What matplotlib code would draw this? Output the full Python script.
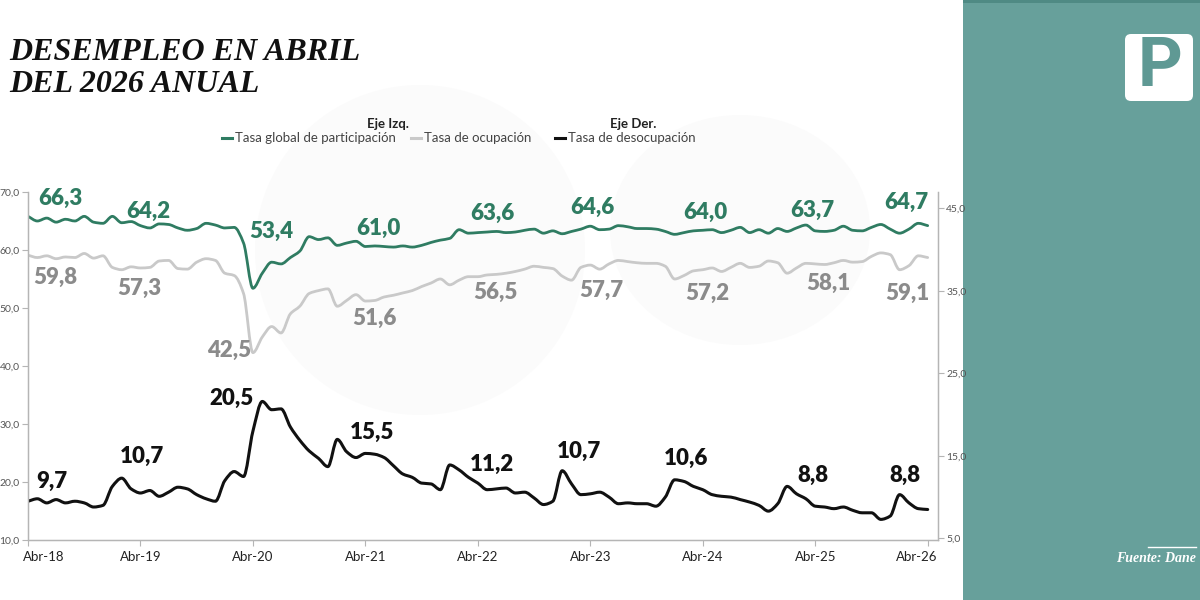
import numpy as np
import matplotlib
matplotlib.use("Agg")
import matplotlib.pyplot as plt
from matplotlib.patches import FancyBboxPatch, Rectangle, Ellipse, PathPatch
from matplotlib.path import Path
from matplotlib.lines import Line2D
from matplotlib.transforms import ScaledTranslation

# ---------------- data (monthly, Apr-2018 .. Apr-2026) ----------------
tick_labels = ["Abr-18", "Abr-19", "Abr-20", "Abr-21", "Abr-22",
               "Abr-23", "Abr-24", "Abr-25", "Abr-26"]

tgp = [  # Tasa global de participación (eje izq.)
    65.8, 65.0, 65.5, 64.8, 65.3, 65.0, 65.8, 64.8, 64.6,
    65.8, 64.7, 64.9, 64.2, 63.8, 64.5, 64.4, 63.8, 63.4, 63.7, 64.6, 64.3,
    63.8, 63.9, 61.2, 53.4, 56.0, 57.9, 57.6, 58.7, 59.8, 62.3, 61.8, 62.1,
    60.8, 61.2, 61.5, 60.6, 60.7, 60.6, 60.5, 60.7, 60.5, 60.8, 61.3, 61.7,
    62.0, 63.5, 62.9, 63.0, 63.1, 63.2, 63.0, 63.1, 63.4, 63.6, 62.9, 63.3,
    62.8, 63.2, 63.6, 64.1, 63.5, 63.6, 64.2, 64.0, 63.7, 63.7, 63.6, 63.2,
    62.7, 63.0, 63.3, 63.4, 63.5, 63.0, 63.4, 63.9, 63.0, 63.5, 62.9, 63.7,
    63.2, 63.8, 64.3, 63.3, 63.2, 63.4, 64.1, 63.4, 63.3, 63.9, 64.4, 63.6,
    62.9, 63.6, 64.6, 64.2]

to = [  # Tasa de ocupación (eje izq.)
    59.1, 58.7, 59.0, 58.5, 58.8, 58.7, 59.4, 58.6, 59.0,
    57.0, 56.6, 57.1, 56.9, 57.0, 58.1, 58.2, 56.8, 56.7, 57.9, 58.5, 58.2,
    56.0, 55.6, 52.5, 42.3, 45.0, 46.8, 45.7, 49.0, 50.3, 52.5, 53.0, 53.3,
    50.3, 51.3, 52.3, 51.2, 51.3, 51.9, 52.2, 52.6, 53.0, 53.7, 54.3, 55.0,
    54.0, 54.8, 55.4, 55.4, 55.7, 55.8, 56.0, 56.3, 56.7, 57.2, 57.0, 56.8,
    55.5, 54.8, 57.0, 57.4, 56.7, 57.6, 58.2, 58.0, 57.8, 57.7, 57.7, 57.2,
    55.0, 55.6, 56.4, 56.6, 56.9, 56.3, 57.0, 57.7, 57.0, 57.2, 58.1, 57.8,
    56.0, 56.9, 57.7, 57.6, 57.5, 57.8, 58.2, 57.9, 58.0, 58.9, 59.5, 59.2,
    56.6, 57.3, 59.0, 58.7]

td = [  # Tasa de desocupación (eje der.)
    9.5, 9.8, 9.3, 9.7, 9.3, 9.5, 9.3, 8.8, 9.0,
    11.3, 12.3, 11.0, 10.5, 10.8, 10.1, 10.6, 11.2, 11.0, 10.3, 9.8, 9.5,
    12.0, 13.1, 12.5, 18.0, 21.6, 20.6, 20.7, 18.5, 16.9, 15.6, 14.7, 13.7,
    17.0, 15.5, 14.8, 15.3, 15.2, 14.8, 13.8, 12.8, 12.4, 11.7, 11.6, 10.9,
    13.9, 13.3, 12.4, 11.7, 10.9, 11.0, 11.1, 10.5, 10.6, 9.9, 9.1, 9.5,
    13.2, 11.6, 10.3, 10.4, 10.6, 10.0, 9.2, 9.3, 9.2, 9.2, 8.9, 10.0,
    12.1, 11.9, 11.3, 10.9, 10.3, 10.1, 10.0, 9.7, 9.4, 9.0, 8.3, 9.2,
    11.3, 10.4, 9.8, 8.9, 8.8, 8.6, 8.8, 8.4, 8.1, 8.1, 7.3, 7.7,
    10.3, 9.3, 8.6, 8.5]

tgp_labels = ["66,3", "64,2", "53,4", "61,0", "63,6", "64,6", "64,0", "63,7", "64,7"]
to_labels = ["59,8", "57,3", "42,5", "51,6", "56,5", "57,7", "57,2", "58,1", "59,1"]
td_labels = ["9,7", "10,7", "20,5", "15,5", "11,2", "10,7", "10,6", "8,8", "8,8"]

left_ticks = [10, 20, 30, 40, 50, 60, 70]
right_ticks = [5, 15, 25, 35, 45]

# ---------------- layout / style ----------------
W, H = 1200, 600
GREEN = "#2f7c62"
GRAY_LINE = "#c9c9c9"
GRAY_TXT = "#8b8b8b"
BLACK = "#111111"
TEAL = "#67a09b"
SANS = ["Lato", "DejaVu Sans"]

tgp_pos = [(60, 198), (148, 211), (271, 231), (378, 228), (492, 213),
           (592, 207), (705, 212), (812, 210), (906, 202)]
to_pos = [(55, 277), (139, 288), (229, 350), (374, 318), (495, 292),
          (601, 290), (707, 293), (828, 283), (907, 293)]
td_pos = [(52, 481), (142, 456), (231, 398), (372, 432), (492, 464),
          (579, 451), (686, 458), (813, 475), (905, 475)]


def px(x, y):
    return x / W, 1 - y / H


def smooth_path(xs, ys):
    """Monotone cubic (Fritsch-Carlson) Bezier path through the data points."""
    xs = np.asarray(xs, float)
    ys = np.asarray(ys, float)
    n = len(xs)
    dx = np.diff(xs)
    d = np.diff(ys) / dx
    m = np.zeros(n)
    m[0], m[-1] = d[0], d[-1]
    for i in range(1, n - 1):
        if d[i - 1] * d[i] <= 0:
            m[i] = 0.0
        else:
            m[i] = 2.0 / (1.0 / d[i - 1] + 1.0 / d[i])
    verts = [(xs[0], ys[0])]
    codes = [Path.MOVETO]
    for i in range(n - 1):
        h = dx[i] / 3.0
        verts += [(xs[i] + h, ys[i] + m[i] * h),
                  (xs[i + 1] - h, ys[i + 1] - m[i + 1] * h),
                  (xs[i + 1], ys[i + 1])]
        codes += [Path.CURVE4] * 3
    return Path(verts, codes)


fig = plt.figure(figsize=(12, 6), dpi=100)
fig.patch.set_facecolor("white")

# faint background watermark shapes
bg = fig.add_axes([0, 0, 1, 1], zorder=-5)
bg.set_xlim(0, W)
bg.set_ylim(H, 0)
bg.axis("off")
bg.add_patch(Ellipse((420, 250), 330, 330, color="#fbfbfb", lw=0))
bg.add_patch(Ellipse((740, 230), 260, 230, color="#fbfbfb", lw=0))

# right teal panel
bg.add_patch(Rectangle((963, 0), W - 963, H, color=TEAL, lw=0))
bg.add_patch(Rectangle((963, 0), W - 963, 3, color="#4f8a84", lw=0))
bg.add_patch(FancyBboxPatch((1128, 37), 62, 61,
                            boxstyle="round,pad=3,rounding_size=6",
                            fc="white", ec="none"))
bg.text(1160, 68, "P", ha="center", va="center", color="#5f9994",
        fontsize=50, fontweight="bold", family=["Roboto", "DejaVu Sans"])
bg.text(1196, 559, "Fuente: Dane", ha="right", va="center", color="white",
        fontsize=10, style="italic", fontweight="bold",
        family=["Liberation Serif", "DejaVu Serif"])
bg.plot([1148, 1196], [547, 547], color="white", lw=1)

# ---------------- main axes ----------------
x = np.arange(len(tgp))
l, r = 28 / W, 938 / W
b, t = 1 - 540 / H, 1 - 192 / H
ax = fig.add_axes([l, b, r - l, t - b])
ax.patch.set_alpha(0)
ax2 = ax.twinx()

ax.add_patch(PathPatch(smooth_path(x, tgp), fc="none", ec=GREEN, lw=2.0,
                       capstyle="round", joinstyle="round"))
ax.add_patch(PathPatch(smooth_path(x, to), fc="none", ec=GRAY_LINE, lw=2.0,
                       capstyle="round", joinstyle="round"))
ax2.add_patch(PathPatch(smooth_path(x, td), fc="none", ec=BLACK, lw=2.2,
                        capstyle="round", joinstyle="round"))

ax.set_ylim(10, 70)
ax2.set_ylim(4.8, 47)
ax.set_xlim(0, 97.1)

ax.set_yticks(left_ticks)
ax.set_yticklabels([f"{v},0" for v in left_ticks])
ax2.set_yticks(right_ticks)
ax2.set_yticklabels([f"{v},0" for v in right_ticks])
ax.set_xticks(np.arange(0, 97, 12))
ax.set_xticklabels(tick_labels)

for a in (ax, ax2):
    a.spines["top"].set_visible(False)
    for s in ("left", "right", "bottom"):
        a.spines[s].set_color("#b5b5b5")
        a.spines[s].set_linewidth(0.9)

ax.tick_params(axis="y", length=4, width=0.8, color="#b5b5b5", pad=2,
               labelsize=7.5, labelcolor="#555555")
ax2.tick_params(axis="y", length=4, width=0.8, color="#b5b5b5", pad=2,
                labelsize=7.5, labelcolor="#555555")
ax.tick_params(axis="x", length=4, width=0.8, color="#b5b5b5", pad=4,
               labelsize=9.5, labelcolor="#222222")
for lab in ax.get_yticklabels() + ax2.get_yticklabels() + ax.get_xticklabels():
    lab.set_family(SANS)

xl = ax.get_xticklabels()
xl[0].set_transform(xl[0].get_transform() + ScaledTranslation(16 / 100, 0, fig.dpi_scale_trans))
xl[-1].set_transform(xl[-1].get_transform() + ScaledTranslation(-11 / 100, 0, fig.dpi_scale_trans))

# value labels
for labels, positions, col in ((tgp_labels, tgp_pos, GREEN),
                               (to_labels, to_pos, GRAY_TXT),
                               (td_labels, td_pos, BLACK)):
    for txt, (px_, py_) in zip(labels, positions):
        fig.text(*px(px_, py_), txt, ha="center", va="center", color=col,
                 fontsize=16, fontweight="heavy", family=SANS)

# title
for line, yy in (("DESEMPLEO EN ABRIL", 52), ("DEL 2026 ANUAL", 84)):
    fig.text(*px(9, yy), line, ha="left", va="center",
             fontsize=23, fontweight="bold", style="italic",
             family=["Liberation Serif", "DejaVu Serif"], color="#111111")

# legend
fig.text(*px(388, 124), "Eje Izq.", ha="center", va="center", fontsize=9.5,
         fontweight="bold", family=SANS, color="#222222")
fig.text(*px(633, 124), "Eje Der.", ha="center", va="center", fontsize=9.5,
         fontweight="bold", family=SANS, color="#222222")
leg_items = [("Tasa global de participación", GREEN, 222),
             ("Tasa de ocupación", GRAY_LINE, 411),
             ("Tasa de desocupación", BLACK, 555)]
for name, col, x0 in leg_items:
    x1, y1 = px(x0, 138)
    x2, _ = px(x0 + 10, 138)
    fig.add_artist(Line2D([x1, x2], [y1, y1], color=col, lw=2.2,
                          transform=fig.transFigure))
    fig.text(*px(x0 + 13, 138), name, ha="left", va="center", fontsize=9.5,
             family=SANS, color="#444444")

fig.savefig("out.png", dpi=100)
